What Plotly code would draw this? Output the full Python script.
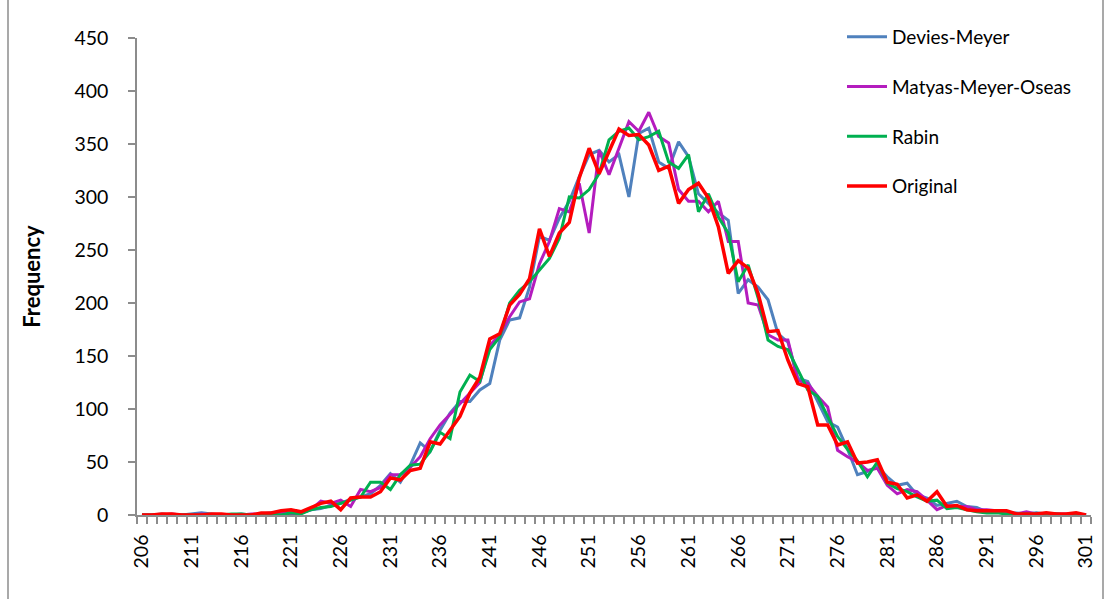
import plotly.graph_objects as go

# Hash output value bins (206 .. 301)
categories = list(range(206, 302))

devies_meyer = [
    0, 0, 1, 0, 0, 1, 2, 1, 0, 0,
    1, 0, 1, 2, 3, 3, 2, 5, 6, 9,
    11, 15, 17, 20, 28, 39, 31, 47, 68, 60,
    80, 96, 107, 107, 118, 124, 165, 184, 186, 215,
    263, 259, 280, 296, 319, 340, 344, 333, 340, 300,
    360, 365, 333, 327, 352, 338, 303, 294, 285, 278,
    209, 222, 215, 203, 171, 163, 129, 126, 107, 88,
    83, 62, 38, 41, 46, 36, 28, 30, 19, 16,
    9, 11, 13, 8, 7, 3, 4, 2, 2, 1,
    2, 1, 1, 0, 1, 0,
]

matyas_meyer_oseas = [
    0, 0, 0, 1, 0, 0, 1, 0, 0, 0,
    0, 1, 1, 1, 2, 1, 2, 5, 13, 11,
    14, 8, 24, 22, 26, 38, 38, 45, 55, 72,
    85, 95, 105, 115, 125, 160, 170, 187, 201, 204,
    237, 258, 289, 286, 313, 266, 344, 321, 347, 371,
    362, 380, 357, 351, 307, 296, 296, 286, 296, 258,
    258, 200, 198, 170, 165, 165, 127, 124, 112, 102,
    61, 55, 50, 42, 44, 28, 20, 24, 22, 14,
    5, 9, 8, 8, 5, 5, 4, 3, 1, 3,
    1, 1, 1, 1, 1, 0,
]

rabin = [
    0, 0, 0, 0, 0, 0, 0, 0, 0, 1,
    1, 0, 1, 1, 0, 2, 1, 5, 7, 8,
    11, 14, 17, 31, 31, 24, 38, 47, 48, 60,
    78, 72, 116, 132, 126, 156, 168, 200, 212, 220,
    231, 242, 261, 300, 299, 307, 322, 354, 362, 365,
    354, 357, 362, 333, 327, 340, 286, 303, 281, 266,
    220, 236, 205, 165, 159, 156, 137, 118, 112, 93,
    74, 62, 51, 36, 50, 30, 25, 22, 17, 13,
    14, 6, 7, 5, 3, 2, 2, 1, 1, 1,
    1, 1, 1, 0, 1, 0,
]

original = [
    0, 0, 1, 1, 0, 0, 0, 1, 1, 0,
    0, 0, 2, 2, 4, 5, 3, 7, 11, 13,
    5, 16, 17, 17, 22, 35, 33, 42, 44, 69,
    67, 80, 93, 115, 130, 166, 171, 198, 208, 223,
    270, 244, 266, 276, 318, 346, 322, 343, 364, 358,
    359, 349, 325, 329, 294, 307, 313, 299, 272, 228,
    240, 233, 209, 173, 174, 146, 124, 121, 85, 85,
    66, 69, 49, 50, 52, 31, 29, 16, 19, 13,
    22, 8, 9, 5, 4, 4, 4, 4, 1, 1,
    1, 2, 1, 1, 2, 0,
]

x_labels = list(range(206, 302, 5))
y_ticks = [0, 50, 100, 150, 200, 250, 300, 350, 400, 450]

series = [
    ("Devies-Meyer", devies_meyer, "#4F81BD", 3),
    ("Matyas-Meyer-Oseas", matyas_meyer_oseas, "#B41CBE", 3),
    ("Rabin", rabin, "#00B050", 3),
    ("Original", original, "#FF0000", 3.5),
]

FONT = "Lato, Calibri, Carlito, sans-serif"
AXIS_GREY = "#8C8C8C"

fig = go.Figure()
for i, (name, values, color, width) in enumerate(series):
    fig.add_trace(go.Scatter(
        x=categories, y=values, name=name, mode="lines",
        line=dict(color=color, width=width),
        legendgroup=f"g{i}",
    ))

W, H = 1109, 599
L, R, T, B = 137, 18, 38, 84
pw, ph = W - L - R, H - T - B

fig.update_layout(
    width=W, height=H,
    margin=dict(l=L, r=R, t=T, b=B),
    paper_bgcolor="white", plot_bgcolor="white",
    font=dict(family=FONT, size=19, color="#000000"),
    showlegend=True,
    legend=dict(
        x=(842 - L) / pw, xanchor="left",
        y=1 + (T - 18) / ph, yanchor="top",
        font=dict(family=FONT, size=19, color="#000000"),
        tracegroupgap=22,
        bgcolor="rgba(0,0,0,0)",
        itemwidth=40,
    ),
    xaxis=dict(
        range=[205.5, 301.5],
        tickmode="array", tickvals=x_labels, ticktext=[str(v) for v in x_labels],
        tickangle=-90, ticks="",
        tickfont=dict(family=FONT, size=19.5, color="#000000"),
        showline=True, linecolor=AXIS_GREY, linewidth=1.5,
        showgrid=False, zeroline=False,
        minor=dict(tickmode="linear", tick0=205.5, dtick=1, ticks="outside",
                   ticklen=7, tickcolor=AXIS_GREY, tickwidth=1.5, showgrid=False),
        ticklabelstandoff=10,
    ),
    yaxis=dict(
        range=[0, 450],
        tickmode="array", tickvals=y_ticks,
        ticks="outside", ticklen=7, tickcolor=AXIS_GREY, tickwidth=1.5,
        tickfont=dict(family=FONT, size=19.5, color="#000000"),
        showline=True, linecolor=AXIS_GREY, linewidth=1.5,
        showgrid=False, zeroline=False,
        ticklabelstandoff=16,
        title=dict(text="<b>Frequency</b>", font=dict(family=FONT, size=22, color="#000000"),
                   standoff=28),
    ),
)

# Chart frame edges
for px in (8, 1103):
    fig.add_shape(type="line", xref="paper", yref="paper",
                  x0=(px - L) / pw, x1=(px - L) / pw,
                  y0=(T + ph - H) / ph, y1=(T + ph) / ph,
                  line=dict(color=AXIS_GREY, width=1.5))

fig.write_html("out.html")
